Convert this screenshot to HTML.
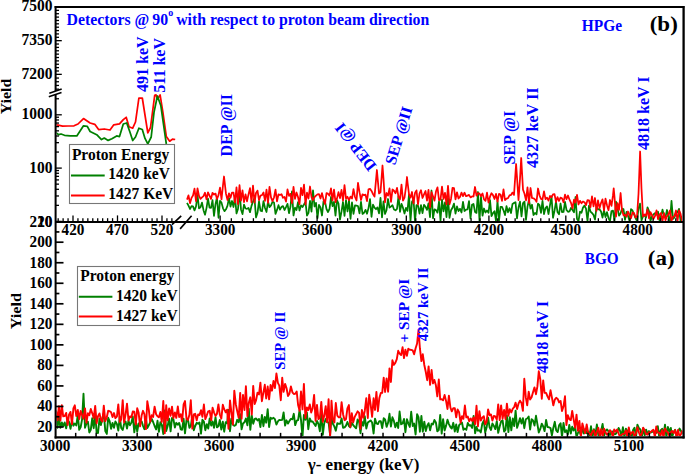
<!DOCTYPE html><html><head><meta charset="utf-8"><style>html,body{margin:0;padding:0;background:#fff;}svg{display:block;}</style></head><body>
<svg width="685" height="475" viewBox="0 0 685 475">
<rect x="0" y="0" width="685" height="475" fill="#fff"/>
<defs><clipPath id="ctl"><rect x="56.5" y="7" width="120" height="214"/></clipPath><clipPath id="ctr"><rect x="186" y="7" width="496" height="214"/></clipPath><clipPath id="cb"><rect x="56.5" y="223" width="626" height="213"/></clipPath></defs>
<g fill="none" stroke-linejoin="round" stroke-width="1.75">
<g clip-path="url(#ctr)"><polyline stroke="#008000" points="187.0,202.8 188.5,205.7 190.0,209.0 191.5,206.2 193.0,206.4 194.5,210.4 196.0,206.5 197.5,194.9 199.0,208.4 200.5,207.2 202.0,202.6 203.5,210.2 205.0,214.7 206.5,208.1 208.0,198.6 209.5,207.7 211.0,207.9 212.5,200.1 214.0,215.8 215.5,204.2 217.0,197.2 218.5,217.8 220.0,200.8 221.5,202.6 223.0,208.3 224.5,211.2 226.0,209.3 227.5,205.7 229.0,198.0 230.5,206.6 232.0,201.0 233.5,207.0 235.0,196.5 236.5,213.5 238.0,209.0 239.5,190.6 241.0,209.4 242.5,214.1 244.0,204.6 245.5,208.5 247.0,208.8 248.5,207.9 250.0,212.2 251.5,205.9 253.0,201.5 254.5,198.2 256.0,217.5 257.5,212.8 259.0,201.3 260.5,210.7 262.0,211.3 263.5,201.1 265.0,208.0 266.5,212.0 268.0,201.5 269.5,207.2 271.0,205.4 272.5,201.8 274.0,202.5 275.5,213.9 277.0,209.9 278.5,205.2 280.0,209.7 281.5,206.8 283.0,206.1 284.5,210.0 286.0,207.1 287.5,203.9 289.0,213.2 290.5,206.5 292.0,191.4 293.5,215.5 295.0,207.6 296.5,210.0 298.0,202.2 299.5,210.5 301.0,205.4 302.5,207.0 304.0,204.5 305.5,201.8 307.0,215.7 308.5,212.8 310.0,200.9 311.5,211.6 313.0,190.3 314.5,206.5 316.0,202.8 317.5,218.1 319.0,204.9 320.5,207.5 322.0,215.5 323.5,201.3 325.0,201.6 326.5,209.0 328.0,212.0 329.5,208.9 331.0,197.0 332.5,206.2 334.0,201.8 335.5,215.7 337.0,200.0 338.5,203.6 340.0,219.6 341.5,211.7 343.0,202.0 344.5,215.9 346.0,200.1 347.5,211.5 349.0,200.6 350.5,218.8 352.0,202.3 353.5,213.8 355.0,205.4 356.5,205.7 358.0,206.1 359.5,213.3 361.0,201.9 362.5,214.0 364.0,212.8 365.5,209.8 367.0,213.8 368.5,208.1 370.0,199.1 371.5,216.8 373.0,204.6 374.5,207.6 376.0,209.2 377.5,207.4 379.0,213.3 380.5,197.9 382.0,217.4 383.5,201.4 385.0,214.0 386.5,210.2 388.0,199.0 389.5,207.6 391.0,206.5 392.5,205.2 394.0,209.5 395.5,210.3 397.0,208.8 398.5,196.1 400.0,211.9 401.5,203.9 403.0,207.9 404.5,213.5 406.0,207.8 407.5,210.9 409.0,194.5 410.5,221.0 412.0,201.8 413.5,199.6 415.0,221.0 416.5,205.2 418.0,205.6 419.5,213.6 421.0,205.2 422.5,213.1 424.0,204.8 425.5,206.8 427.0,209.9 428.5,203.3 430.0,217.1 431.5,190.5 433.0,218.3 434.5,209.4 436.0,210.1 437.5,212.7 439.0,201.5 440.5,220.6 442.0,199.6 443.5,211.3 445.0,202.4 446.5,217.1 448.0,198.0 449.5,217.9 451.0,210.3 452.5,207.7 454.0,203.6 455.5,213.6 457.0,206.4 458.5,211.1 460.0,208.8 461.5,212.5 463.0,201.8 464.5,211.0 466.0,209.6 467.5,209.3 469.0,201.2 470.5,218.3 472.0,204.8 473.5,203.9 475.0,211.9 476.5,212.9 478.0,192.0 479.5,221.0 481.0,196.8 482.5,215.7 484.0,208.5 485.5,212.5 487.0,210.4 488.5,212.8 490.0,200.2 491.5,216.2 493.0,213.1 494.5,211.2 496.0,220.9 497.5,200.8 499.0,221.0 500.5,206.8 502.0,206.8 503.5,210.3 505.0,215.1 506.5,206.2 508.0,212.3 509.5,208.1 511.0,213.0 512.5,203.9 514.0,202.9 515.5,202.2 517.0,218.3 518.5,207.5 520.0,201.6 521.5,216.4 523.0,203.1 524.5,201.7 526.0,219.9 527.5,206.6 529.0,199.8 530.5,208.6 532.0,204.7 533.5,215.0 535.0,212.9 536.5,214.3 538.0,203.6 539.5,205.1 541.0,212.8 542.5,200.8 544.0,214.1 545.5,208.1 547.0,206.4 548.5,214.0 550.0,205.1 551.5,196.4 553.0,217.8 554.5,210.9 556.0,201.6 557.5,212.1 559.0,214.3 560.5,203.5 562.0,212.1 563.5,212.0 565.0,201.8 566.5,210.0 568.0,211.8 569.5,211.4 571.0,207.9 572.5,210.0 574.0,212.3 575.5,197.0 577.0,218.9 578.5,221.0 580.0,211.6 581.5,212.8 583.0,207.6 584.5,205.6 586.0,208.6 587.5,221.0 589.0,205.6 590.5,211.6 592.0,213.0 593.5,214.9 595.0,219.6 596.5,207.0 598.0,209.4 599.5,209.2 601.0,211.4 602.5,217.6 604.0,210.3 605.5,217.1 607.0,212.1 608.5,218.3 610.0,221.0 611.5,211.0 613.0,210.7 614.5,221.0 616.0,201.6 617.5,207.9 619.0,215.7 620.5,213.4 622.0,208.7 623.5,209.0 625.0,219.8 626.5,211.9 628.0,215.7 629.5,221.0 631.0,209.1 632.5,210.5 634.0,214.2 635.5,218.1 637.0,221.0 638.5,208.4 640.0,203.7 641.5,220.5 643.0,216.2 644.5,215.3 646.0,217.7 647.5,207.3 649.0,211.1 650.5,220.9 652.0,216.3 653.5,214.5 655.0,213.1 656.5,214.7 658.0,211.7 659.5,220.3 661.0,216.1 662.5,209.7 664.0,215.4 665.5,216.9 667.0,210.0 668.5,216.7 670.0,221.0 671.5,200.9 673.0,219.0 674.5,217.3 676.0,212.7 677.5,212.3 679.0,208.9 680.5,220.7 682.0,216.5"/><polyline stroke="#ff0000" points="187.0,199.6 188.5,195.3 190.0,203.2 191.5,197.9 193.0,195.5 194.5,188.6 196.0,201.2 197.5,188.3 199.0,195.8 200.5,198.9 202.0,197.4 203.5,196.1 205.0,192.7 206.5,199.4 208.0,192.3 209.5,195.7 211.0,199.0 212.5,192.8 214.0,194.6 215.5,193.6 217.0,199.0 218.5,195.1 220.0,187.7 221.5,199.3 223.0,185.2 224.0,176.5 224.5,180.9 226.0,193.9 227.5,200.0 229.0,193.3 230.5,197.8 232.0,192.6 233.5,192.7 235.0,202.6 236.5,187.3 238.0,204.2 239.5,185.2 241.0,200.7 242.5,190.4 244.0,202.1 245.5,194.3 247.0,201.3 248.5,194.4 250.0,188.2 251.5,202.3 253.0,185.7 254.5,202.7 256.0,193.0 257.5,190.6 259.0,200.2 260.5,195.6 262.0,195.2 263.5,192.5 265.0,200.8 266.5,189.7 268.0,202.9 269.5,186.9 271.0,197.4 272.5,201.1 274.0,197.5 275.5,189.6 277.0,201.3 278.5,194.3 280.0,195.1 281.5,194.2 283.0,197.8 284.5,197.0 286.0,201.6 287.5,189.4 289.0,195.9 290.5,193.8 292.0,203.1 293.5,186.9 295.0,198.9 296.5,192.5 298.0,197.0 299.5,204.1 301.0,187.9 302.5,195.2 304.0,184.6 305.5,204.5 307.0,192.7 308.5,198.5 310.0,186.5 311.5,197.0 313.0,200.0 314.5,197.2 316.0,195.6 317.5,194.3 319.0,194.1 320.5,198.5 322.0,193.1 323.5,199.4 325.0,203.9 326.5,193.2 328.0,193.7 329.5,195.6 331.0,188.4 332.5,200.5 334.0,189.7 335.5,202.1 337.0,198.4 338.5,192.1 340.0,198.1 341.5,189.9 343.0,200.7 344.5,185.1 346.0,198.6 347.5,196.8 349.0,200.2 350.5,196.6 352.0,198.5 353.5,189.1 355.0,197.0 356.5,200.5 358.0,182.9 359.5,192.2 361.0,200.0 362.5,194.3 364.0,195.3 365.5,194.6 367.0,201.1 368.5,189.3 370.0,188.8 371.5,190.9 373.0,194.0 374.5,196.7 376.0,180.2 376.9,170.0 377.5,176.8 379.0,193.5 380.5,192.3 382.0,172.2 382.5,165.5 383.5,178.9 385.0,202.4 386.5,193.0 388.0,195.7 389.5,188.4 391.0,201.9 392.5,189.5 394.0,190.7 395.5,193.3 397.0,187.9 398.5,197.2 400.0,199.2 401.5,184.6 403.0,200.7 404.5,197.6 406.0,187.0 407.0,177.0 407.5,182.0 409.0,194.1 410.5,197.7 412.0,192.0 413.5,203.4 415.0,193.0 416.5,190.3 418.0,204.5 419.5,193.5 421.0,190.2 422.5,198.0 424.0,194.3 425.5,191.0 427.0,200.7 428.5,189.8 430.0,207.5 431.5,192.2 433.0,196.2 434.5,200.6 436.0,191.3 437.5,187.3 439.0,200.2 440.5,199.7 442.0,186.6 443.5,199.0 445.0,192.8 446.5,204.4 448.0,185.9 449.5,204.3 451.0,198.9 452.5,187.8 454.0,188.1 455.5,199.3 457.0,192.3 458.5,198.5 460.0,196.9 461.5,192.6 463.0,196.1 464.5,192.7 466.0,196.2 467.5,195.6 469.0,194.9 470.5,197.4 472.0,196.4 473.5,196.5 475.0,187.0 476.5,195.7 478.0,193.1 479.5,193.6 481.0,196.2 482.5,193.4 484.0,199.3 485.5,200.8 487.0,192.7 488.5,202.6 490.0,196.7 491.5,193.2 493.0,195.1 494.5,199.0 496.0,193.9 497.5,201.5 499.0,193.9 500.5,194.5 502.0,200.8 503.5,189.4 505.0,200.1 506.5,198.7 508.0,198.2 509.5,195.4 511.0,194.9 512.5,192.6 514.0,194.9 515.5,172.9 516.1,164.0 517.0,177.3 518.5,200.2 520.0,179.0 521.2,158.0 521.5,163.3 523.0,189.6 524.5,193.7 526.0,200.3 527.5,187.4 529.0,203.2 530.5,188.0 532.0,198.0 533.5,198.3 535.0,199.4 536.5,201.8 538.0,188.5 539.5,195.3 541.0,198.9 542.5,199.4 544.0,191.3 545.5,199.2 547.0,197.7 548.5,200.7 550.0,196.0 551.5,197.4 553.0,194.4 554.5,194.1 556.0,202.0 557.5,197.1 559.0,201.0 560.5,197.6 562.0,198.3 563.5,202.3 565.0,194.6 566.5,199.2 568.0,195.5 569.5,199.7 571.0,202.8 572.5,208.3 574.0,199.7 575.5,202.5 577.0,194.9 578.5,204.5 580.0,200.8 581.5,203.3 583.0,201.5 584.5,202.2 586.0,205.2 587.5,200.1 589.0,200.3 590.5,207.1 592.0,196.4 593.5,206.3 595.0,198.0 596.5,211.0 598.0,200.4 599.5,208.2 601.0,203.0 602.5,199.3 604.0,210.3 605.5,198.7 607.0,205.3 608.5,210.2 610.0,200.0 611.5,205.9 613.0,195.2 613.7,188.4 614.5,196.9 616.0,216.6 617.5,203.2 619.0,209.9 620.5,194.1 620.6,193.0 622.0,210.1 623.5,215.3 625.0,214.8 626.5,216.6 628.0,211.5 629.5,215.0 631.0,218.3 632.5,212.5 634.0,213.0 635.5,217.6 637.0,216.6 638.5,194.0 640.0,154.2 640.1,151.5 641.5,188.7 643.0,216.6 644.5,214.4 646.0,215.9 647.5,209.4 649.0,218.4 650.5,212.2 652.0,215.1 653.5,218.9 655.0,216.0 656.5,210.4 658.0,219.2 659.5,214.6 661.0,213.0 662.5,221.0 664.0,213.2 665.5,220.3 667.0,216.1 668.5,214.3 670.0,210.3 671.5,221.0 673.0,216.8 674.5,216.1 676.0,210.5 677.5,221.0 679.0,210.4 680.5,213.7 682.0,221.0"/></g>
<g clip-path="url(#ctl)"><polyline stroke="#ff0000" points="55.5,124.0 57.0,124.8 62.6,126.2 68.0,126.0 74.0,125.8 78.0,124.0 83.5,118.6 90.1,123.0 94.8,124.3 98.6,129.6 104.3,129.0 110.0,130.0 113.8,124.8 119.5,123.9 123.3,119.7 126.2,117.3 129.0,126.7 132.7,128.2 135.5,122.0 138.9,98.0 142.3,98.0 147.8,132.9 150.5,127.5 154.7,95.3 156.0,94.9 157.5,99.0 160.1,94.9 162.9,112.4 166.3,136.4 169.7,141.2 172.5,139.1 175.2,139.5"/><polyline stroke="#008000" points="55.5,132.4 58.8,134.7 61.0,134.0 64.5,135.3 70.2,135.9 76.8,135.9 83.5,125.8 87.3,126.4 90.1,131.5 96.7,134.7 101.5,139.6 104.3,138.1 108.1,140.4 111.9,138.7 116.7,135.9 119.5,136.6 123.3,124.0 126.7,123.0 130.0,132.3 132.7,140.5 135.5,137.0 138.9,128.2 142.3,129.5 145.0,138.4 147.8,143.9 151.2,137.0 154.0,112.4 157.4,96.0 160.8,105.5 166.3,143.9 168.0,152.0"/></g>
<g clip-path="url(#cb)" stroke-width="1.9"><polyline stroke="#008000" points="56.0,415.5 57.5,427.8 58.9,417.6 60.4,427.8 61.8,422.4 63.2,426.3 64.7,422.4 66.2,428.4 67.6,419.8 69.0,421.7 70.5,428.9 72.0,420.5 73.4,425.7 74.8,423.5 76.3,425.4 77.8,414.9 79.2,429.9 80.7,427.0 82.1,419.3 83.5,393.8 85.0,427.8 86.5,423.4 87.9,421.7 89.3,432.5 90.8,429.7 92.2,418.3 93.7,428.2 95.2,412.9 96.6,432.5 98.0,433.0 99.5,418.7 100.9,425.0 102.4,418.1 103.8,413.0 105.3,431.1 106.8,433.9 108.2,417.8 109.7,421.4 111.1,428.9 112.5,422.9 114.0,427.8 115.4,421.4 116.9,423.9 118.3,430.6 119.8,416.7 121.2,428.0 122.7,430.0 124.1,424.0 125.6,421.5 127.0,428.6 128.5,420.7 129.9,425.3 131.4,422.6 132.8,416.5 134.3,432.4 135.8,421.2 137.2,431.7 138.6,423.5 140.1,422.7 141.6,421.4 143.0,425.8 144.4,429.2 145.9,418.9 147.3,428.1 148.8,425.3 150.2,422.1 151.7,418.8 153.1,422.0 154.6,426.0 156.1,429.4 157.5,420.8 158.9,431.9 160.4,422.1 161.8,424.7 163.3,434.0 164.8,410.4 166.2,431.1 167.6,426.3 169.1,418.7 170.6,431.4 172.0,417.9 173.4,419.2 174.9,427.6 176.3,422.8 177.8,424.8 179.2,422.9 180.7,429.3 182.1,429.8 183.6,418.8 185.0,433.4 186.5,419.9 187.9,419.3 189.4,427.9 190.8,426.0 192.3,416.5 193.8,430.2 195.2,426.0 196.7,422.8 198.1,423.7 199.5,422.5 201.0,433.7 202.4,419.8 203.9,421.7 205.3,430.2 206.8,424.2 208.2,428.5 209.7,418.5 211.2,425.6 212.6,421.4 214.0,427.8 215.5,417.1 216.9,427.4 218.4,426.3 219.8,420.0 221.3,429.6 222.8,421.7 224.2,431.7 225.7,422.2 227.1,423.3 228.5,410.0 230.0,431.2 231.4,418.4 232.9,424.5 234.3,425.8 235.8,425.0 237.2,419.8 238.7,422.2 240.2,414.3 241.6,429.4 243.0,423.5 244.5,422.2 245.9,418.5 247.4,425.4 248.8,408.7 250.3,429.8 251.8,415.6 253.2,423.7 254.7,418.9 256.1,418.5 257.5,420.4 259.0,418.9 260.4,427.1 261.9,415.0 263.4,426.2 264.8,417.0 266.2,422.7 267.7,409.2 269.1,427.0 270.6,417.7 272.0,418.7 273.5,417.8 274.9,419.2 276.4,424.5 277.9,421.3 279.3,419.9 280.8,420.1 282.2,419.9 283.6,412.4 285.1,425.6 286.5,420.3 288.0,423.6 289.4,421.0 290.9,418.9 292.4,419.2 293.8,413.8 295.2,425.1 296.7,420.6 298.1,420.1 299.6,409.8 301.0,419.8 302.5,437.0 303.9,414.9 305.4,419.8 306.9,412.7 308.3,429.2 309.8,418.5 311.2,421.6 312.6,421.4 314.1,423.7 315.6,426.0 317.0,420.9 318.4,423.8 319.9,431.3 321.3,410.5 322.8,434.8 324.2,423.4 325.7,419.1 327.1,422.2 328.6,422.5 330.1,434.8 331.5,417.1 332.9,423.7 334.4,426.6 335.8,430.7 337.3,423.2 338.8,423.9 340.2,423.8 341.6,418.5 343.1,427.8 344.6,427.4 346.0,425.6 347.4,422.0 348.9,426.0 350.3,427.4 351.8,422.8 353.2,425.1 354.7,426.8 356.1,428.3 357.6,419.5 359.1,421.7 360.5,433.2 361.9,421.8 363.4,425.7 364.8,416.3 366.3,428.5 367.8,422.6 369.2,421.5 370.6,420.4 372.1,422.5 373.6,433.5 375.0,418.6 376.4,423.4 377.9,424.0 379.3,421.1 380.8,421.1 382.2,428.1 383.7,418.3 385.1,419.5 386.6,426.8 388.1,422.7 389.5,413.8 390.9,426.5 392.4,417.3 393.8,420.6 395.3,427.3 396.8,422.6 398.2,428.0 399.6,411.5 401.1,424.3 402.6,423.4 404.0,419.0 405.4,432.2 406.9,419.1 408.3,423.3 409.8,426.9 411.2,411.8 412.7,426.0 414.1,423.5 415.6,434.5 417.1,414.1 418.5,417.1 419.9,431.7 421.4,415.9 422.8,431.6 424.3,421.6 425.8,431.1 427.2,425.7 428.6,423.2 430.1,430.4 431.6,423.6 433.0,424.4 434.4,420.0 435.9,422.5 437.3,431.4 438.8,430.0 440.2,414.9 441.7,433.6 443.1,419.1 444.6,430.5 446.1,425.6 447.5,419.7 448.9,424.1 450.4,427.0 451.8,428.6 453.3,422.8 454.8,431.5 456.2,424.4 457.6,432.1 459.1,425.2 460.6,423.7 462.0,422.6 463.4,429.8 464.9,428.6 466.3,429.9 467.8,422.9 469.2,425.6 470.7,425.2 472.1,427.9 473.6,415.9 475.1,433.2 476.5,427.0 477.9,430.7 479.4,430.3 480.8,432.4 482.3,423.7 483.8,420.6 485.2,432.6 486.6,427.6 488.1,417.7 489.6,427.4 491.0,430.0 492.4,423.5 493.9,425.9 495.3,429.1 496.8,421.2 498.2,432.9 499.7,426.5 501.1,421.4 502.6,420.3 504.1,431.6 505.5,429.8 506.9,415.5 508.4,432.1 509.8,417.2 511.3,430.3 512.8,418.5 514.2,426.1 515.6,410.6 517.1,427.8 518.5,423.4 520.0,418.1 521.5,423.5 522.9,418.2 524.3,428.2 525.8,419.3 527.2,418.5 528.7,416.6 530.1,429.5 531.6,419.1 533.0,420.4 534.5,425.5 536.0,415.8 537.4,424.1 538.8,432.5 540.3,428.9 541.8,423.6 543.2,426.5 544.6,431.1 546.1,419.9 547.5,427.1 549.0,427.3 550.5,428.0 551.9,435.3 553.3,428.0 554.8,421.8 556.2,430.3 557.7,432.1 559.1,425.4 560.6,423.2 562.0,437.0 563.5,422.9 565.0,432.2 566.4,430.3 567.8,434.3 569.3,425.0 570.8,433.6 572.2,426.8 573.6,430.5 575.1,426.6 576.5,437.0 578.0,432.8 579.4,431.1 580.9,435.3 582.4,427.4 583.8,433.6 585.2,429.0 586.7,433.3 588.1,431.6 589.6,435.4 591.0,426.3 592.5,437.0 593.9,429.3 595.4,434.9 596.9,424.5 598.3,435.2 599.8,437.0 601.2,430.5 602.6,423.9 604.1,435.8 605.5,431.0 607.0,429.4 608.4,431.3 609.9,435.0 611.4,431.8 612.8,431.4 614.2,434.3 615.7,434.1 617.1,431.8 618.6,428.0 620.0,430.7 621.5,435.9 622.9,427.3 624.4,437.0 625.9,428.6 627.3,432.8 628.8,429.5 630.2,434.4 631.6,437.0 633.1,430.1 634.5,427.7 636.0,437.0 637.4,424.7 638.9,428.1 640.4,429.5 641.8,437.0 643.2,428.1 644.7,435.3 646.1,429.6 647.6,434.4 649.0,431.1 650.5,432.5 651.9,432.1 653.4,430.4 654.9,433.4 656.3,432.8 657.8,426.1 659.2,437.0 660.6,430.4 662.1,428.8 663.5,435.2 665.0,424.7 666.4,437.0 667.9,427.0 669.4,431.8 670.8,428.0 672.2,437.0 673.7,431.7 675.1,429.7 676.6,436.3 678.0,432.2 679.5,428.6 680.9,430.8 682.4,434.0"/><polyline stroke="#ff0000" points="56.0,410.5 57.5,420.2 58.9,406.2 60.4,420.6 61.8,405.2 63.2,416.3 64.7,416.1 66.2,412.9 67.6,425.0 69.0,414.8 70.5,411.9 72.0,424.1 73.4,408.4 74.8,405.3 76.3,416.1 77.8,410.0 79.2,419.2 80.7,411.0 82.1,415.0 83.5,418.7 85.0,408.4 86.5,422.7 87.9,413.3 89.3,415.3 90.8,409.0 92.2,413.1 93.7,418.1 95.2,405.9 96.6,423.2 98.0,416.2 99.5,413.4 100.9,419.7 102.4,421.6 103.8,405.6 105.3,421.1 106.8,417.3 108.2,410.8 109.7,411.2 111.1,412.3 112.5,417.1 114.0,413.1 115.4,418.2 116.9,416.7 118.3,404.4 119.8,421.8 121.2,419.5 122.7,400.1 124.1,422.5 125.6,414.3 127.0,403.6 128.5,420.5 129.9,416.4 131.4,417.3 132.8,411.4 134.3,411.7 135.8,424.5 137.2,408.3 138.6,412.6 140.1,426.3 141.6,415.6 143.0,410.8 144.4,414.1 145.9,429.1 147.3,401.2 148.8,409.6 150.2,421.9 151.7,415.3 153.1,417.0 154.6,406.7 156.1,414.2 157.5,416.2 158.9,417.3 160.4,412.0 161.8,422.0 163.3,401.0 164.8,433.2 166.2,405.3 167.6,420.4 169.1,408.5 170.6,415.7 172.0,406.6 173.4,418.0 174.9,412.4 176.3,417.9 177.8,406.5 179.2,417.0 180.7,414.2 182.1,421.5 183.6,404.3 185.0,401.0 186.5,418.8 187.9,420.0 189.4,414.8 190.8,400.3 192.3,428.6 193.8,414.4 195.2,413.8 196.7,420.4 198.1,414.4 199.5,415.1 201.0,410.2 202.4,416.9 203.9,404.5 205.3,419.1 206.8,415.3 208.2,411.3 209.7,410.8 211.2,420.3 212.6,407.7 214.0,412.3 215.5,416.0 216.9,414.0 218.4,404.5 219.8,414.5 221.3,418.6 222.8,404.8 224.2,409.2 225.7,412.3 227.1,409.7 228.5,428.7 230.0,400.4 231.4,412.2 232.9,424.5 234.3,390.7 235.8,404.2 237.2,411.1 238.7,417.8 240.2,392.9 241.6,418.7 243.0,394.9 244.5,410.0 245.9,386.2 247.4,416.1 248.8,402.8 250.3,397.3 251.8,414.5 253.2,385.9 254.7,404.0 256.1,400.1 257.5,392.6 259.0,394.4 260.4,382.7 261.9,401.2 263.4,392.6 264.8,384.8 266.2,398.5 267.7,386.5 269.1,399.4 270.6,384.9 272.0,390.7 273.5,380.9 274.9,388.1 276.4,373.5 277.9,382.9 279.3,385.6 280.8,400.2 282.2,377.7 283.6,391.8 285.1,383.9 286.5,388.0 288.0,396.1 289.4,393.7 290.9,386.5 292.4,392.3 293.8,394.0 295.2,393.8 296.7,391.5 298.1,405.0 299.6,410.8 301.0,391.5 302.5,409.4 303.9,383.9 305.4,418.0 306.9,407.5 308.3,410.1 309.8,404.5 311.2,412.5 312.6,408.4 314.1,394.9 315.6,420.9 317.0,404.9 318.4,419.1 319.9,417.7 321.3,401.9 322.8,421.9 324.2,415.9 325.7,406.1 327.1,422.1 328.6,399.3 330.1,437.0 331.5,400.8 332.9,419.1 334.4,422.5 335.8,403.0 337.3,415.6 338.8,417.4 340.2,417.4 341.6,402.2 343.1,414.4 344.6,420.2 346.0,419.2 347.4,408.3 348.9,405.1 350.3,427.0 351.8,413.1 353.2,422.3 354.7,416.9 356.1,414.3 357.6,411.3 359.1,412.8 360.5,428.9 361.9,409.9 363.4,417.7 364.8,410.7 366.3,398.1 367.8,418.0 369.2,394.7 370.6,404.2 372.1,416.8 373.6,398.3 375.0,410.0 376.4,391.9 377.9,411.2 379.3,398.3 380.8,392.9 382.2,392.9 383.7,377.7 385.1,392.0 386.6,378.4 388.1,391.7 389.5,368.4 390.9,382.0 392.4,360.3 393.8,364.9 395.3,362.9 396.8,359.2 398.2,350.8 399.6,353.6 401.1,355.1 402.6,347.3 404.0,358.1 405.4,349.6 406.9,355.8 408.3,348.8 409.8,349.7 411.2,349.9 412.7,350.4 414.1,354.3 415.6,348.3 417.1,343.5 418.5,329.8 419.9,348.2 421.4,361.1 422.8,354.3 424.3,365.0 425.8,372.0 427.2,380.2 428.6,366.4 430.1,384.9 431.6,370.0 433.0,383.4 434.4,380.0 435.9,385.3 437.3,396.4 438.8,379.5 440.2,399.4 441.7,399.2 443.1,400.3 444.6,394.9 446.1,401.1 447.5,409.0 448.9,395.7 450.4,407.5 451.8,411.3 453.3,408.1 454.8,408.2 456.2,417.3 457.6,409.4 459.1,412.2 460.6,422.7 462.0,416.2 463.4,418.8 464.9,405.5 466.3,417.4 467.8,416.6 469.2,421.2 470.7,418.4 472.1,420.9 473.6,417.5 475.1,424.1 476.5,405.8 477.9,426.3 479.4,411.2 480.8,420.5 482.3,417.6 483.8,416.2 485.2,424.2 486.6,421.8 488.1,409.4 489.6,415.3 491.0,414.4 492.4,420.5 493.9,415.9 495.3,416.3 496.8,419.7 498.2,404.4 499.7,420.1 501.1,405.4 502.6,418.7 504.1,410.0 505.5,419.2 506.9,403.6 508.4,415.9 509.8,409.3 511.3,412.4 512.8,408.6 514.2,407.1 515.6,402.6 517.1,409.0 518.5,403.7 520.0,400.7 521.5,403.0 522.9,410.9 524.3,378.8 525.8,397.4 527.2,405.3 528.7,391.7 530.1,399.6 531.6,397.2 533.0,392.3 534.5,387.4 536.0,394.2 537.4,386.4 538.8,371.3 540.3,379.5 541.8,398.7 543.2,380.4 544.6,392.9 546.1,392.9 547.5,396.4 549.0,399.3 550.5,390.3 551.9,397.4 553.3,405.4 554.8,399.6 556.2,397.8 557.7,398.9 559.1,402.4 560.6,400.9 562.0,411.0 563.5,406.4 565.0,396.3 566.4,425.0 567.8,415.2 569.3,419.1 570.8,420.1 572.2,410.9 573.6,419.1 575.1,427.9 576.5,414.7 578.0,430.8 579.4,420.9 580.9,436.9 582.4,423.4 583.8,428.8 585.2,433.1 586.7,424.5 588.1,432.3 589.6,433.7 591.0,435.2 592.5,431.3 593.9,430.1 595.4,436.9 596.9,431.8 598.3,427.8 599.8,435.8 601.2,429.2 602.6,436.3 604.1,428.7 605.5,432.5 607.0,434.8 608.4,433.1 609.9,430.2 611.4,431.9 612.8,437.0 614.2,429.4 615.7,431.8 617.1,429.6 618.6,433.5 620.0,437.0 621.5,434.8 622.9,433.9 624.4,433.7 625.9,430.4 627.3,437.0 628.8,427.4 630.2,434.9 631.6,432.6 633.1,431.7 634.5,437.0 636.0,433.4 637.4,427.3 638.9,432.3 640.4,436.1 641.8,433.7 643.2,427.6 644.7,430.4 646.1,434.3 647.6,434.5 649.0,432.1 650.5,432.2 651.9,430.8 653.4,429.7 654.9,437.0 656.3,426.4 657.8,432.6 659.2,432.8 660.6,435.6 662.1,430.1 663.5,437.0 665.0,428.4 666.4,431.1 667.9,432.5 669.4,435.9 670.8,432.3 672.2,431.0 673.7,433.1 675.1,430.1 676.6,437.0 678.0,430.0 679.5,436.5 680.9,434.2 682.4,430.6"/></g>
</g>
<g stroke="#000" stroke-linecap="butt"><line x1="54.60" y1="7.00" x2="684.30" y2="7.00" stroke-width="2.00"/><line x1="683.60" y1="6.00" x2="683.60" y2="438.55" stroke-width="2.30"/><line x1="55.60" y1="6.00" x2="55.60" y2="91.00" stroke-width="2.00"/><line x1="55.60" y1="94.60" x2="55.60" y2="438.45" stroke-width="2.00"/><line x1="55.60" y1="222.00" x2="683.30" y2="222.00" stroke-width="2.00"/><line x1="54.60" y1="437.45" x2="684.50" y2="437.45" stroke-width="2.20"/><line x1="55.60" y1="7.00" x2="61.80" y2="7.00" stroke-width="1.30"/><line x1="55.60" y1="10.37" x2="59.00" y2="10.37" stroke-width="1.30"/><line x1="55.60" y1="13.73" x2="59.00" y2="13.73" stroke-width="1.30"/><line x1="55.60" y1="17.10" x2="59.00" y2="17.10" stroke-width="1.30"/><line x1="55.60" y1="20.47" x2="59.00" y2="20.47" stroke-width="1.30"/><line x1="55.60" y1="23.84" x2="59.00" y2="23.84" stroke-width="1.30"/><line x1="55.60" y1="27.20" x2="59.00" y2="27.20" stroke-width="1.30"/><line x1="55.60" y1="30.57" x2="59.00" y2="30.57" stroke-width="1.30"/><line x1="55.60" y1="33.94" x2="59.00" y2="33.94" stroke-width="1.30"/><line x1="55.60" y1="37.31" x2="59.00" y2="37.31" stroke-width="1.30"/><line x1="55.60" y1="40.67" x2="61.80" y2="40.67" stroke-width="1.30"/><line x1="55.60" y1="44.04" x2="59.00" y2="44.04" stroke-width="1.30"/><line x1="55.60" y1="47.41" x2="59.00" y2="47.41" stroke-width="1.30"/><line x1="55.60" y1="50.78" x2="59.00" y2="50.78" stroke-width="1.30"/><line x1="55.60" y1="54.14" x2="59.00" y2="54.14" stroke-width="1.30"/><line x1="55.60" y1="57.51" x2="59.00" y2="57.51" stroke-width="1.30"/><line x1="55.60" y1="60.88" x2="59.00" y2="60.88" stroke-width="1.30"/><line x1="55.60" y1="64.25" x2="59.00" y2="64.25" stroke-width="1.30"/><line x1="55.60" y1="67.61" x2="59.00" y2="67.61" stroke-width="1.30"/><line x1="55.60" y1="70.98" x2="59.00" y2="70.98" stroke-width="1.30"/><line x1="55.60" y1="74.35" x2="61.80" y2="74.35" stroke-width="1.30"/><line x1="55.60" y1="78.05" x2="59.00" y2="78.05" stroke-width="1.30"/><line x1="55.60" y1="81.75" x2="59.00" y2="81.75" stroke-width="1.30"/><line x1="55.60" y1="85.45" x2="59.00" y2="85.45" stroke-width="1.30"/><line x1="55.60" y1="89.15" x2="59.00" y2="89.15" stroke-width="1.30"/><line x1="55.60" y1="221.40" x2="61.80" y2="221.40" stroke-width="1.30"/><line x1="55.60" y1="205.36" x2="59.00" y2="205.36" stroke-width="1.30"/><line x1="55.60" y1="195.97" x2="59.00" y2="195.97" stroke-width="1.30"/><line x1="55.60" y1="189.31" x2="59.00" y2="189.31" stroke-width="1.30"/><line x1="55.60" y1="184.14" x2="59.00" y2="184.14" stroke-width="1.30"/><line x1="55.60" y1="179.92" x2="59.00" y2="179.92" stroke-width="1.30"/><line x1="55.60" y1="176.36" x2="59.00" y2="176.36" stroke-width="1.30"/><line x1="55.60" y1="173.27" x2="59.00" y2="173.27" stroke-width="1.30"/><line x1="55.60" y1="170.54" x2="59.00" y2="170.54" stroke-width="1.30"/><line x1="55.60" y1="168.10" x2="61.80" y2="168.10" stroke-width="1.30"/><line x1="55.60" y1="152.06" x2="59.00" y2="152.06" stroke-width="1.30"/><line x1="55.60" y1="142.67" x2="59.00" y2="142.67" stroke-width="1.30"/><line x1="55.60" y1="136.01" x2="59.00" y2="136.01" stroke-width="1.30"/><line x1="55.60" y1="130.84" x2="59.00" y2="130.84" stroke-width="1.30"/><line x1="55.60" y1="126.62" x2="59.00" y2="126.62" stroke-width="1.30"/><line x1="55.60" y1="123.06" x2="59.00" y2="123.06" stroke-width="1.30"/><line x1="55.60" y1="119.97" x2="59.00" y2="119.97" stroke-width="1.30"/><line x1="55.60" y1="117.24" x2="59.00" y2="117.24" stroke-width="1.30"/><line x1="55.60" y1="114.80" x2="61.80" y2="114.80" stroke-width="1.30"/><line x1="55.60" y1="98.76" x2="59.00" y2="98.76" stroke-width="1.30"/><line x1="49.30" y1="93.20" x2="61.70" y2="89.00" stroke-width="1.60"/><line x1="48.80" y1="96.80" x2="61.50" y2="92.60" stroke-width="1.60"/><line x1="58.17" y1="222.00" x2="58.17" y2="218.20" stroke-width="1.30"/><line x1="63.11" y1="222.00" x2="63.11" y2="218.20" stroke-width="1.30"/><line x1="68.06" y1="222.00" x2="68.06" y2="218.20" stroke-width="1.30"/><line x1="73.00" y1="222.00" x2="73.00" y2="215.40" stroke-width="1.30"/><line x1="77.94" y1="222.00" x2="77.94" y2="218.20" stroke-width="1.30"/><line x1="82.89" y1="222.00" x2="82.89" y2="218.20" stroke-width="1.30"/><line x1="87.83" y1="222.00" x2="87.83" y2="218.20" stroke-width="1.30"/><line x1="92.78" y1="222.00" x2="92.78" y2="218.20" stroke-width="1.30"/><line x1="97.72" y1="222.00" x2="97.72" y2="218.20" stroke-width="1.30"/><line x1="102.67" y1="222.00" x2="102.67" y2="218.20" stroke-width="1.30"/><line x1="107.61" y1="222.00" x2="107.61" y2="218.20" stroke-width="1.30"/><line x1="112.56" y1="222.00" x2="112.56" y2="218.20" stroke-width="1.30"/><line x1="117.50" y1="222.00" x2="117.50" y2="215.40" stroke-width="1.30"/><line x1="122.44" y1="222.00" x2="122.44" y2="218.20" stroke-width="1.30"/><line x1="127.39" y1="222.00" x2="127.39" y2="218.20" stroke-width="1.30"/><line x1="132.33" y1="222.00" x2="132.33" y2="218.20" stroke-width="1.30"/><line x1="137.28" y1="222.00" x2="137.28" y2="218.20" stroke-width="1.30"/><line x1="142.22" y1="222.00" x2="142.22" y2="218.20" stroke-width="1.30"/><line x1="147.17" y1="222.00" x2="147.17" y2="218.20" stroke-width="1.30"/><line x1="152.11" y1="222.00" x2="152.11" y2="218.20" stroke-width="1.30"/><line x1="157.06" y1="222.00" x2="157.06" y2="218.20" stroke-width="1.30"/><line x1="162.00" y1="222.00" x2="162.00" y2="215.40" stroke-width="1.30"/><line x1="166.94" y1="222.00" x2="166.94" y2="218.20" stroke-width="1.30"/><line x1="171.89" y1="222.00" x2="171.89" y2="218.20" stroke-width="1.30"/><line x1="197.39" y1="222.00" x2="197.39" y2="218.20" stroke-width="1.30"/><line x1="208.83" y1="222.00" x2="208.83" y2="218.20" stroke-width="1.30"/><line x1="220.14" y1="222.00" x2="220.14" y2="215.40" stroke-width="1.30"/><line x1="231.34" y1="222.00" x2="231.34" y2="218.20" stroke-width="1.30"/><line x1="242.43" y1="222.00" x2="242.43" y2="218.20" stroke-width="1.30"/><line x1="253.41" y1="222.00" x2="253.41" y2="218.20" stroke-width="1.30"/><line x1="264.29" y1="222.00" x2="264.29" y2="218.20" stroke-width="1.30"/><line x1="275.05" y1="222.00" x2="275.05" y2="218.20" stroke-width="1.30"/><line x1="285.72" y1="222.00" x2="285.72" y2="218.20" stroke-width="1.30"/><line x1="296.28" y1="222.00" x2="296.28" y2="218.20" stroke-width="1.30"/><line x1="306.75" y1="222.00" x2="306.75" y2="218.20" stroke-width="1.30"/><line x1="317.12" y1="222.00" x2="317.12" y2="215.40" stroke-width="1.30"/><line x1="327.39" y1="222.00" x2="327.39" y2="218.20" stroke-width="1.30"/><line x1="337.57" y1="222.00" x2="337.57" y2="218.20" stroke-width="1.30"/><line x1="347.65" y1="222.00" x2="347.65" y2="218.20" stroke-width="1.30"/><line x1="357.65" y1="222.00" x2="357.65" y2="218.20" stroke-width="1.30"/><line x1="367.55" y1="222.00" x2="367.55" y2="218.20" stroke-width="1.30"/><line x1="377.37" y1="222.00" x2="377.37" y2="218.20" stroke-width="1.30"/><line x1="387.11" y1="222.00" x2="387.11" y2="218.20" stroke-width="1.30"/><line x1="396.76" y1="222.00" x2="396.76" y2="218.20" stroke-width="1.30"/><line x1="406.32" y1="222.00" x2="406.32" y2="215.40" stroke-width="1.30"/><line x1="415.81" y1="222.00" x2="415.81" y2="218.20" stroke-width="1.30"/><line x1="425.21" y1="222.00" x2="425.21" y2="218.20" stroke-width="1.30"/><line x1="434.54" y1="222.00" x2="434.54" y2="218.20" stroke-width="1.30"/><line x1="443.79" y1="222.00" x2="443.79" y2="218.20" stroke-width="1.30"/><line x1="452.96" y1="222.00" x2="452.96" y2="218.20" stroke-width="1.30"/><line x1="462.06" y1="222.00" x2="462.06" y2="218.20" stroke-width="1.30"/><line x1="471.09" y1="222.00" x2="471.09" y2="218.20" stroke-width="1.30"/><line x1="480.04" y1="222.00" x2="480.04" y2="218.20" stroke-width="1.30"/><line x1="488.92" y1="222.00" x2="488.92" y2="215.40" stroke-width="1.30"/><line x1="497.73" y1="222.00" x2="497.73" y2="218.20" stroke-width="1.30"/><line x1="506.47" y1="222.00" x2="506.47" y2="218.20" stroke-width="1.30"/><line x1="515.14" y1="222.00" x2="515.14" y2="218.20" stroke-width="1.30"/><line x1="523.75" y1="222.00" x2="523.75" y2="218.20" stroke-width="1.30"/><line x1="532.29" y1="222.00" x2="532.29" y2="218.20" stroke-width="1.30"/><line x1="540.77" y1="222.00" x2="540.77" y2="218.20" stroke-width="1.30"/><line x1="549.18" y1="222.00" x2="549.18" y2="218.20" stroke-width="1.30"/><line x1="557.53" y1="222.00" x2="557.53" y2="218.20" stroke-width="1.30"/><line x1="565.81" y1="222.00" x2="565.81" y2="215.40" stroke-width="1.30"/><line x1="574.04" y1="222.00" x2="574.04" y2="218.20" stroke-width="1.30"/><line x1="582.20" y1="222.00" x2="582.20" y2="218.20" stroke-width="1.30"/><line x1="590.31" y1="222.00" x2="590.31" y2="218.20" stroke-width="1.30"/><line x1="598.35" y1="222.00" x2="598.35" y2="218.20" stroke-width="1.30"/><line x1="606.34" y1="222.00" x2="606.34" y2="218.20" stroke-width="1.30"/><line x1="614.28" y1="222.00" x2="614.28" y2="218.20" stroke-width="1.30"/><line x1="622.15" y1="222.00" x2="622.15" y2="218.20" stroke-width="1.30"/><line x1="629.97" y1="222.00" x2="629.97" y2="218.20" stroke-width="1.30"/><line x1="637.74" y1="222.00" x2="637.74" y2="215.40" stroke-width="1.30"/><line x1="645.45" y1="222.00" x2="645.45" y2="218.20" stroke-width="1.30"/><line x1="653.11" y1="222.00" x2="653.11" y2="218.20" stroke-width="1.30"/><line x1="660.72" y1="222.00" x2="660.72" y2="218.20" stroke-width="1.30"/><line x1="668.28" y1="222.00" x2="668.28" y2="218.20" stroke-width="1.30"/><line x1="675.78" y1="222.00" x2="675.78" y2="218.20" stroke-width="1.30"/><line x1="172.00" y1="224.60" x2="181.20" y2="215.90" stroke-width="1.60"/><line x1="180.10" y1="228.90" x2="191.60" y2="215.80" stroke-width="1.60"/><line x1="55.50" y1="427.00" x2="63.50" y2="427.00" stroke-width="1.70"/><line x1="55.50" y1="416.73" x2="59.40" y2="416.73" stroke-width="1.70"/><line x1="55.50" y1="406.47" x2="63.50" y2="406.47" stroke-width="1.70"/><line x1="55.50" y1="396.20" x2="59.40" y2="396.20" stroke-width="1.70"/><line x1="55.50" y1="385.93" x2="63.50" y2="385.93" stroke-width="1.70"/><line x1="55.50" y1="375.67" x2="59.40" y2="375.67" stroke-width="1.70"/><line x1="55.50" y1="365.40" x2="63.50" y2="365.40" stroke-width="1.70"/><line x1="55.50" y1="355.13" x2="59.40" y2="355.13" stroke-width="1.70"/><line x1="55.50" y1="344.87" x2="63.50" y2="344.87" stroke-width="1.70"/><line x1="55.50" y1="334.60" x2="59.40" y2="334.60" stroke-width="1.70"/><line x1="55.50" y1="324.33" x2="63.50" y2="324.33" stroke-width="1.70"/><line x1="55.50" y1="314.07" x2="59.40" y2="314.07" stroke-width="1.70"/><line x1="55.50" y1="303.80" x2="63.50" y2="303.80" stroke-width="1.70"/><line x1="55.50" y1="293.53" x2="59.40" y2="293.53" stroke-width="1.70"/><line x1="55.50" y1="283.27" x2="63.50" y2="283.27" stroke-width="1.70"/><line x1="55.50" y1="273.00" x2="59.40" y2="273.00" stroke-width="1.70"/><line x1="55.50" y1="262.73" x2="63.50" y2="262.73" stroke-width="1.70"/><line x1="55.50" y1="252.47" x2="59.40" y2="252.47" stroke-width="1.70"/><line x1="55.50" y1="242.20" x2="63.50" y2="242.20" stroke-width="1.70"/><line x1="55.50" y1="231.93" x2="59.40" y2="231.93" stroke-width="1.70"/><line x1="75.69" y1="437.45" x2="75.69" y2="432.85" stroke-width="1.50"/><line x1="96.18" y1="437.45" x2="96.18" y2="432.85" stroke-width="1.50"/><line x1="116.67" y1="437.45" x2="116.67" y2="432.85" stroke-width="1.50"/><line x1="137.16" y1="437.45" x2="137.16" y2="432.85" stroke-width="1.50"/><line x1="157.65" y1="437.45" x2="157.65" y2="432.85" stroke-width="1.50"/><line x1="178.14" y1="437.45" x2="178.14" y2="432.85" stroke-width="1.50"/><line x1="198.62" y1="437.45" x2="198.62" y2="432.85" stroke-width="1.50"/><line x1="219.11" y1="437.45" x2="219.11" y2="432.85" stroke-width="1.50"/><line x1="239.60" y1="437.45" x2="239.60" y2="432.85" stroke-width="1.50"/><line x1="260.09" y1="437.45" x2="260.09" y2="432.85" stroke-width="1.50"/><line x1="280.58" y1="437.45" x2="280.58" y2="432.85" stroke-width="1.50"/><line x1="301.07" y1="437.45" x2="301.07" y2="432.85" stroke-width="1.50"/><line x1="321.56" y1="437.45" x2="321.56" y2="432.85" stroke-width="1.50"/><line x1="342.05" y1="437.45" x2="342.05" y2="432.85" stroke-width="1.50"/><line x1="362.54" y1="437.45" x2="362.54" y2="432.85" stroke-width="1.50"/><line x1="383.03" y1="437.45" x2="383.03" y2="432.85" stroke-width="1.50"/><line x1="403.52" y1="437.45" x2="403.52" y2="432.85" stroke-width="1.50"/><line x1="424.01" y1="437.45" x2="424.01" y2="432.85" stroke-width="1.50"/><line x1="444.50" y1="437.45" x2="444.50" y2="432.85" stroke-width="1.50"/><line x1="464.98" y1="437.45" x2="464.98" y2="432.85" stroke-width="1.50"/><line x1="485.47" y1="437.45" x2="485.47" y2="432.85" stroke-width="1.50"/><line x1="505.96" y1="437.45" x2="505.96" y2="432.85" stroke-width="1.50"/><line x1="526.45" y1="437.45" x2="526.45" y2="432.85" stroke-width="1.50"/><line x1="546.94" y1="437.45" x2="546.94" y2="432.85" stroke-width="1.50"/><line x1="567.43" y1="437.45" x2="567.43" y2="432.85" stroke-width="1.50"/><line x1="587.92" y1="437.45" x2="587.92" y2="432.85" stroke-width="1.50"/><line x1="608.41" y1="437.45" x2="608.41" y2="432.85" stroke-width="1.50"/><line x1="628.90" y1="437.45" x2="628.90" y2="432.85" stroke-width="1.50"/><line x1="649.39" y1="437.45" x2="649.39" y2="432.85" stroke-width="1.50"/><line x1="669.88" y1="437.45" x2="669.88" y2="432.85" stroke-width="1.50"/></g>
<rect x="69.5" y="144.5" width="105.0" height="59.0" fill="#fff" stroke="#777" stroke-width="1.1"/>
<text transform="translate(71.90,159.90) scale(1,1.08)" font-family="Liberation Serif" font-weight="bold" font-size="15.5" fill="#000">Proton Energy</text>
<line x1="71.0" y1="175.4" x2="104.7" y2="175.4" stroke="#008000" stroke-width="2"/>
<line x1="71.0" y1="195.5" x2="104.7" y2="195.5" stroke="#ff0000" stroke-width="2"/>
<text transform="translate(108.30,179.00) scale(1,1.08)" font-family="Liberation Serif" font-weight="bold" font-size="15.5" fill="#000">1420 keV</text>
<text transform="translate(108.30,199.10) scale(1,1.08)" font-family="Liberation Serif" font-weight="bold" font-size="15.5" fill="#000">1427 KeV</text>
<rect x="77.5" y="266.5" width="102.0" height="59.0" fill="#fff" stroke="#777" stroke-width="1.1"/>
<text transform="translate(80.20,281.40) scale(1,1.08)" font-family="Liberation Serif" font-weight="bold" font-size="15.5" fill="#000">Proton energy</text>
<line x1="78.8" y1="296.8" x2="112.4" y2="296.8" stroke="#008000" stroke-width="2"/>
<line x1="78.8" y1="316.6" x2="112.4" y2="316.6" stroke="#ff0000" stroke-width="2"/>
<text transform="translate(116.10,301.20) scale(1,1.08)" font-family="Liberation Serif" font-weight="bold" font-size="15.5" fill="#000">1420 keV</text>
<text transform="translate(116.10,321.00) scale(1,1.08)" font-family="Liberation Serif" font-weight="bold" font-size="15.5" fill="#000">1427 keV</text>
<text transform="translate(52.60,11.10) scale(1,1.060)" font-family="Liberation Serif" font-weight="bold" font-size="15.50" text-anchor="end" fill="#000">7500</text>
<text transform="translate(52.60,45.00) scale(1,1.060)" font-family="Liberation Serif" font-weight="bold" font-size="15.50" text-anchor="end" fill="#000">7350</text>
<text transform="translate(52.60,79.10) scale(1,1.060)" font-family="Liberation Serif" font-weight="bold" font-size="15.50" text-anchor="end" fill="#000">7200</text>
<text transform="translate(52.60,119.30) scale(1,1.060)" font-family="Liberation Serif" font-weight="bold" font-size="15.50" text-anchor="end" fill="#000">1000</text>
<text transform="translate(52.60,172.90) scale(1,1.060)" font-family="Liberation Serif" font-weight="bold" font-size="15.50" text-anchor="end" fill="#000">100</text>
<text transform="translate(52.40,226.90) scale(1,1.060)" font-family="Liberation Serif" font-weight="bold" font-size="15.20" text-anchor="end" fill="#000">10</text>
<text transform="translate(52.40,432.00) scale(1,1.060)" font-family="Liberation Serif" font-weight="bold" font-size="15.20" text-anchor="end" fill="#000">20</text>
<text transform="translate(52.40,411.47) scale(1,1.060)" font-family="Liberation Serif" font-weight="bold" font-size="15.20" text-anchor="end" fill="#000">40</text>
<text transform="translate(52.40,390.93) scale(1,1.060)" font-family="Liberation Serif" font-weight="bold" font-size="15.20" text-anchor="end" fill="#000">60</text>
<text transform="translate(52.40,370.40) scale(1,1.060)" font-family="Liberation Serif" font-weight="bold" font-size="15.20" text-anchor="end" fill="#000">80</text>
<text transform="translate(52.40,349.87) scale(1,1.060)" font-family="Liberation Serif" font-weight="bold" font-size="15.20" text-anchor="end" fill="#000">100</text>
<text transform="translate(52.40,329.33) scale(1,1.060)" font-family="Liberation Serif" font-weight="bold" font-size="15.20" text-anchor="end" fill="#000">120</text>
<text transform="translate(52.40,308.80) scale(1,1.060)" font-family="Liberation Serif" font-weight="bold" font-size="15.20" text-anchor="end" fill="#000">140</text>
<text transform="translate(52.40,288.27) scale(1,1.060)" font-family="Liberation Serif" font-weight="bold" font-size="15.20" text-anchor="end" fill="#000">160</text>
<text transform="translate(52.40,267.73) scale(1,1.060)" font-family="Liberation Serif" font-weight="bold" font-size="15.20" text-anchor="end" fill="#000">180</text>
<text transform="translate(52.40,247.20) scale(1,1.060)" font-family="Liberation Serif" font-weight="bold" font-size="15.20" text-anchor="end" fill="#000">200</text>
<text transform="translate(52.40,226.67) scale(1,1.060)" font-family="Liberation Serif" font-weight="bold" font-size="15.20" text-anchor="end" fill="#000">220</text>
<text transform="translate(73.00,235.30) scale(1,1.060)" font-family="Liberation Serif" font-weight="bold" font-size="15.20" text-anchor="middle" fill="#000">420</text>
<text transform="translate(117.50,235.30) scale(1,1.060)" font-family="Liberation Serif" font-weight="bold" font-size="15.20" text-anchor="middle" fill="#000">470</text>
<text transform="translate(162.00,235.30) scale(1,1.060)" font-family="Liberation Serif" font-weight="bold" font-size="15.20" text-anchor="middle" fill="#000">520</text>
<text transform="translate(220.14,235.30) scale(1,1.060)" font-family="Liberation Serif" font-weight="bold" font-size="15.20" text-anchor="middle" fill="#000">3300</text>
<text transform="translate(317.12,235.30) scale(1,1.060)" font-family="Liberation Serif" font-weight="bold" font-size="15.20" text-anchor="middle" fill="#000">3600</text>
<text transform="translate(406.32,235.30) scale(1,1.060)" font-family="Liberation Serif" font-weight="bold" font-size="15.20" text-anchor="middle" fill="#000">3900</text>
<text transform="translate(488.92,235.30) scale(1,1.060)" font-family="Liberation Serif" font-weight="bold" font-size="15.20" text-anchor="middle" fill="#000">4200</text>
<text transform="translate(565.81,235.30) scale(1,1.060)" font-family="Liberation Serif" font-weight="bold" font-size="15.20" text-anchor="middle" fill="#000">4500</text>
<text transform="translate(637.74,235.30) scale(1,1.060)" font-family="Liberation Serif" font-weight="bold" font-size="15.20" text-anchor="middle" fill="#000">4800</text>
<text transform="translate(55.20,451.00) scale(1,1.060)" font-family="Liberation Serif" font-weight="bold" font-size="15.20" text-anchor="middle" fill="#000">3000</text>
<text transform="translate(137.16,451.00) scale(1,1.060)" font-family="Liberation Serif" font-weight="bold" font-size="15.20" text-anchor="middle" fill="#000">3300</text>
<text transform="translate(219.11,451.00) scale(1,1.060)" font-family="Liberation Serif" font-weight="bold" font-size="15.20" text-anchor="middle" fill="#000">3600</text>
<text transform="translate(301.07,451.00) scale(1,1.060)" font-family="Liberation Serif" font-weight="bold" font-size="15.20" text-anchor="middle" fill="#000">3900</text>
<text transform="translate(383.03,451.00) scale(1,1.060)" font-family="Liberation Serif" font-weight="bold" font-size="15.20" text-anchor="middle" fill="#000">4200</text>
<text transform="translate(464.98,451.00) scale(1,1.060)" font-family="Liberation Serif" font-weight="bold" font-size="15.20" text-anchor="middle" fill="#000">4500</text>
<text transform="translate(546.94,451.00) scale(1,1.060)" font-family="Liberation Serif" font-weight="bold" font-size="15.20" text-anchor="middle" fill="#000">4800</text>
<text transform="translate(628.90,451.00) scale(1,1.060)" font-family="Liberation Serif" font-weight="bold" font-size="15.20" text-anchor="middle" fill="#000">5100</text>
<text transform="translate(11.0,114.3) rotate(-90) scale(1.065,1)" font-family="Liberation Serif" font-weight="bold" font-size="14.9" fill="#000">Yield</text>
<text transform="translate(20.6,329.2) rotate(-90) scale(1.13,1)" font-family="Liberation Serif" font-weight="bold" font-size="14.3" fill="#000">Yield</text>
<text transform="translate(363.60,470.20) scale(1,0.960)" font-family="Liberation Serif" font-weight="bold" font-size="17.00" text-anchor="middle" fill="#000">&#947;- energy (keV)</text>
<text transform="translate(66.6,24.7) scale(1,1.04)" font-family="Liberation Serif" font-weight="bold" font-size="15.8" fill="#00f">Detectors @ <tspan dx="-0.8">90</tspan><tspan font-size="10" dy="-8.2" dx="0.2">o</tspan><tspan dy="8.2" dx="-1.1"> with respect to proton beam direction</tspan></text>
<text transform="translate(581.80,30.70) scale(1,1.060)" font-family="Liberation Serif" font-weight="bold" font-size="15.40" text-anchor="start" fill="#00f">HPGe</text>
<text transform="translate(649.70,31.30) scale(1,0.940)" font-family="Liberation Serif" font-weight="bold" font-size="23.00" text-anchor="start" fill="#000">(b)</text>
<text transform="translate(584.80,263.50) scale(1,1.060)" font-family="Liberation Serif" font-weight="bold" font-size="15.20" text-anchor="start" fill="#00f">BGO</text>
<text transform="translate(647.80,264.80) scale(1,0.940)" font-family="Liberation Serif" font-weight="bold" font-size="23.00" text-anchor="start" fill="#000">(a)</text>
<text transform="translate(147.60,92.00) rotate(-90.0) scale(1,1.000)" font-family="Liberation Serif" font-weight="bold" font-size="16.00" fill="#00f" text-anchor="start">491 keV</text>
<text transform="translate(164.60,92.70) rotate(-90.0) scale(1,1.000)" font-family="Liberation Serif" font-weight="bold" font-size="16.00" fill="#00f" text-anchor="start">511 keV</text>
<text transform="translate(232.20,156.40) rotate(-90.0) scale(1,1.000)" font-family="Liberation Serif" font-weight="bold" font-size="16.00" fill="#00f" text-anchor="start">DEP @II</text>
<text transform="translate(377.00,165.80) rotate(-128.0) scale(1,1.000)" font-family="Liberation Serif" font-weight="bold" font-size="16.00" fill="#00f" text-anchor="start">DEP @I</text>
<text transform="translate(395.00,165.70) rotate(-73.0) scale(1,1.000)" font-family="Liberation Serif" font-weight="bold" font-size="16.00" fill="#00f" text-anchor="start">SEP @II</text>
<text transform="translate(515.00,164.40) rotate(-90.0) scale(1,1.000)" font-family="Liberation Serif" font-weight="bold" font-size="16.00" fill="#00f" text-anchor="start">SEP @I</text>
<text transform="translate(538.40,168.00) rotate(-90.0) scale(1,1.000)" font-family="Liberation Serif" font-weight="bold" font-size="16.20" fill="#00f" text-anchor="start">4327 keV II</text>
<text transform="translate(649.40,150.00) rotate(-90.0) scale(1,1.000)" font-family="Liberation Serif" font-weight="bold" font-size="16.00" fill="#00f" text-anchor="start">4818 keV I</text>
<text transform="translate(285.20,369.70) rotate(-90.0) scale(1,1.000)" font-family="Liberation Serif" font-weight="bold" font-size="14.60" fill="#00f" text-anchor="start">SEP @ II</text>
<text transform="translate(409.30,342.60) rotate(-90.0) scale(1,1.000)" font-family="Liberation Serif" font-weight="bold" font-size="15.30" fill="#00f" text-anchor="start">+ SEP @I</text>
<text transform="translate(427.90,341.20) rotate(-90.0) scale(1,1.000)" font-family="Liberation Serif" font-weight="bold" font-size="14.80" fill="#00f" text-anchor="start">4327 keV II</text>
<text transform="translate(548.40,373.00) rotate(-90.0) scale(1,1.000)" font-family="Liberation Serif" font-weight="bold" font-size="15.70" fill="#00f" text-anchor="start">4818 keV I</text>
</svg></body></html>
